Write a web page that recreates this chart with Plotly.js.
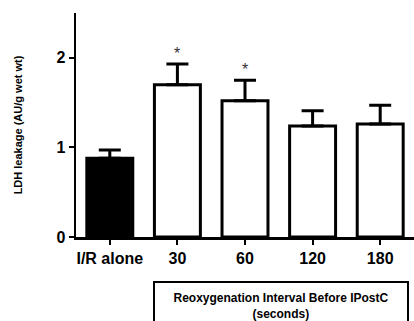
<!DOCTYPE html>
<html><head><meta charset="utf-8">
<script src="https://cdn.plot.ly/plotly-3.0.1.min.js"></script>
<style>html,body{margin:0;padding:0;background:#fff}#c{width:414px;height:321px}</style>
</head><body><div id="c"></div>
<script>
var categories = ["I/R alone", "30", "60", "120", "180"];
var means = [0.88, 1.70, 1.52, 1.24, 1.26];
var sem = [0.09, 0.23, 0.23, 0.17, 0.21];
var fills = ["#000000", "#ffffff", "#ffffff", "#ffffff", "#ffffff"];
var significant = [false, true, true, false, false];
var yTicks = [0, 1, 2];

var F = "Arial, 'Liberation Sans', sans-serif";
var trace = {
  type: "bar", x: categories, y: means, width: 0.68,
  marker: {color: fills, line: {color: "#000", width: 3}},
  error_y: {type: "data", symmetric: false, array: sem, arrayminus: sem.map(function(){return 0;}),
            color: "#000", thickness: 3, width: 11},
  hoverinfo: "none"
};
var ann = [];
categories.forEach(function(c, i){
  if (significant[i]) ann.push({x: i, y: means[i] + sem[i], xref: "x", yref: "y", text: "*",
    showarrow: false, yanchor: "bottom", yshift: 0, font: {family: F, size: 16, color: "#333"}});
});
ann.push({xref: "paper", yref: "paper", x: 0.606, y: -0.31, xanchor: "center", yanchor: "middle",
  text: "<b>Reoxygenation Interval Before IPostC<br>(seconds)</b>", showarrow: false,
  width: 250, height: 44, bordercolor: "#000", borderwidth: 2, bgcolor: "#fff",
  font: {family: F, size: 12, color: "#000"}});

Plotly.newPlot("c", [trace], {
  width: 414, height: 321, margin: {l: 76, r: 0, t: 13, b: 84},
  paper_bgcolor: "#fff", plot_bgcolor: "#fff", showlegend: false,
  bargap: 0.32,
  xaxis: {type: "category", range: [-0.5, 4.5], showline: true, linecolor: "#000", linewidth: 2.5,
    ticks: "outside", ticklen: 5, tickwidth: 2, tickcolor: "#000", showgrid: false, zeroline: false,
    tickfont: {family: F, size: 16, color: "#000", weight: "bold"}},
  yaxis: {range: [0, 2.5], tickvals: yTicks, showline: true, linecolor: "#000", linewidth: 2.5,
    ticks: "outside", ticklen: 5, tickwidth: 2, tickcolor: "#000", showgrid: false, zeroline: false,
    tickfont: {family: F, size: 16, color: "#000", weight: "bold"},
    title: {text: "<b>LDH leakage (AU/g wet wt)</b>", standoff: 32, font: {family: F, size: 11, color: "#000"}}},
  annotations: ann
}, {staticPlot: true});
</script></body></html>
